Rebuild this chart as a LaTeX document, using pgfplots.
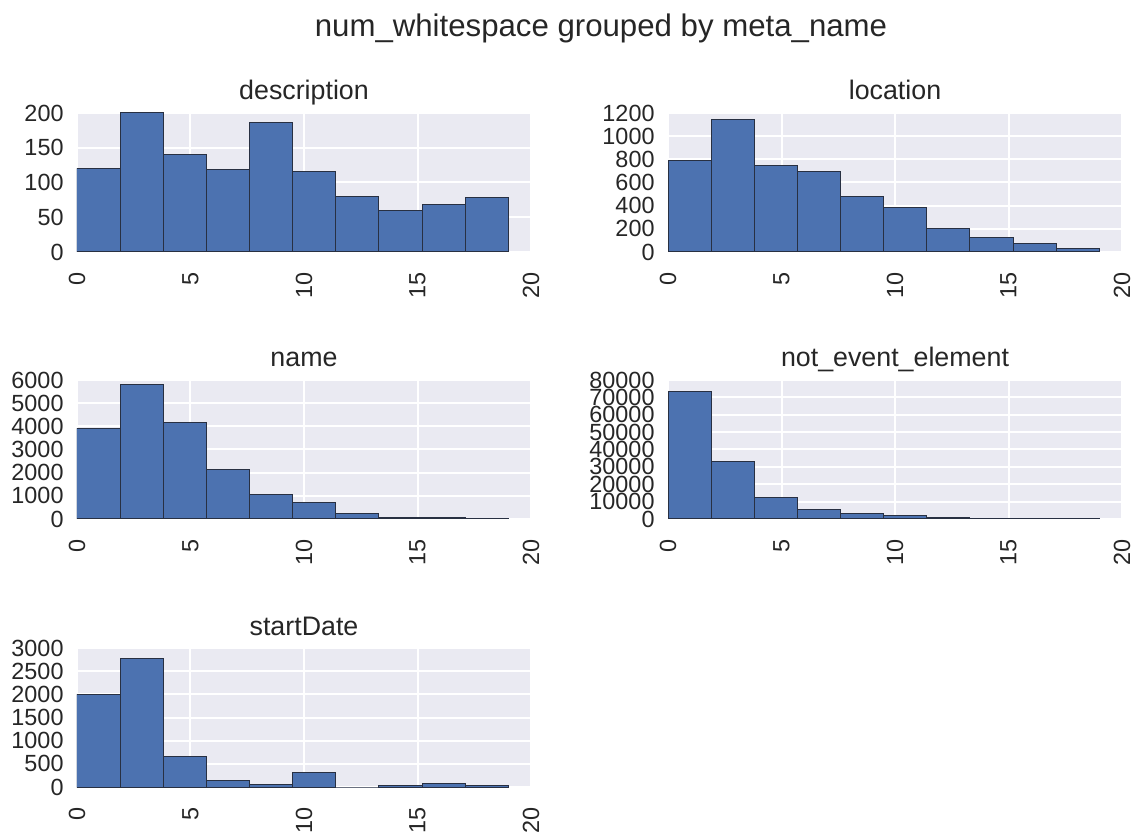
\documentclass[border=0pt]{standalone}
\usepackage{pgfplots}
\pgfplotsset{compat=1.18}
\usepackage{fontspec}
\setmainfont{Liberation Sans}
\definecolor{sbbg}{RGB}{234,234,242}
\definecolor{sbblue}{RGB}{76,114,176}
\definecolor{sbedge}{RGB}{40,48,66}
\definecolor{sbtext}{RGB}{38,38,38}
\pgfplotsset{
  sbhist/.style={
    scale only axis, width=227pt, height=69.5pt,
    anchor=north west,
    xmin=0, xmax=20, ymin=0,
    xtick={0,5,10,15,20},
    axis background/.style={fill=sbbg},
    axis line style={draw=none},
    major tick length=0pt,
    grid=major,
    major grid style={white, line width=1pt},
    tick label style={font=\fontsize{11.7}{12}\selectfont, text=sbtext},
    xticklabel style={yshift=-6.5pt, rotate=90, anchor=east},
    yticklabel style={xshift=-3.2pt},
    /pgf/number format/assume math mode=true,
    /pgf/number format/1000 sep={},
    scaled y ticks=false,
    every axis title shift=0pt,
    title style={font=\fontsize{13.4}{14}\selectfont, text=sbtext, anchor=base, yshift=6.5pt},
  },
  sbbar/.style={ybar interval, fill=sbblue, draw=sbedge, line width=0.5pt},
}
\begin{document}
\begin{tikzpicture}
\path[use as bounding box] (0,0) rectangle (568pt,418pt);
\node[font=\fontsize{15.6}{17}\selectfont, text=sbtext] at (300.5pt,404pt) {num\_whitespace grouped by meta\_name};

\begin{axis}[sbhist, at={(38.5pt,361.5pt)}, title={description}, ymax=200, ytick={0,50,100,150,200}]
\addplot[sbbar] coordinates {(0,120) (1.9,200) (3.8,141) (5.7,118) (7.6,186) (9.5,116) (11.4,80) (13.3,59) (15.2,68) (17.1,78) (19.0,0)};
\end{axis}

\begin{axis}[sbhist, at={(334pt,361.5pt)}, title={location}, ymax=1200, ytick={0,200,...,1200}]
\addplot[sbbar] coordinates {(0,788) (1.9,1145) (3.8,751) (5.7,696) (7.6,481) (9.5,383) (11.4,199) (13.3,127) (15.2,72) (17.1,29) (19.0,0)};
\end{axis}

\begin{axis}[sbhist, at={(38.5pt,228pt)}, title={name}, ymax=6000, ytick={0,1000,...,6000}]
\addplot[sbbar] coordinates {(0,3917) (1.9,5795) (3.8,4150) (5.7,2140) (7.6,1077) (9.5,699) (11.4,218) (13.3,73) (15.2,80) (17.1,29) (19.0,0)};
\end{axis}

\begin{axis}[sbhist, at={(334pt,228pt)}, title={not\_event\_element}, ymax=80000, ytick={0,10000,...,80000}]
\addplot[sbbar] coordinates {(0,73400) (1.9,33200) (3.8,12400) (5.7,5630) (7.6,2900) (9.5,1940) (11.4,970) (13.3,200) (15.2,200) (17.1,300) (19.0,0)};
\end{axis}

\begin{axis}[sbhist, at={(38.5pt,94pt)}, title={startDate}, ymax=3000, ytick={0,500,...,3000}]
\addplot[sbbar] coordinates {(0,2000) (1.9,2784) (3.8,662) (5.7,130) (7.6,58) (9.5,309) (11.4,0) (13.3,22) (15.2,65) (17.1,22) (19.0,0)};
\end{axis}
\end{tikzpicture}
\end{document}
